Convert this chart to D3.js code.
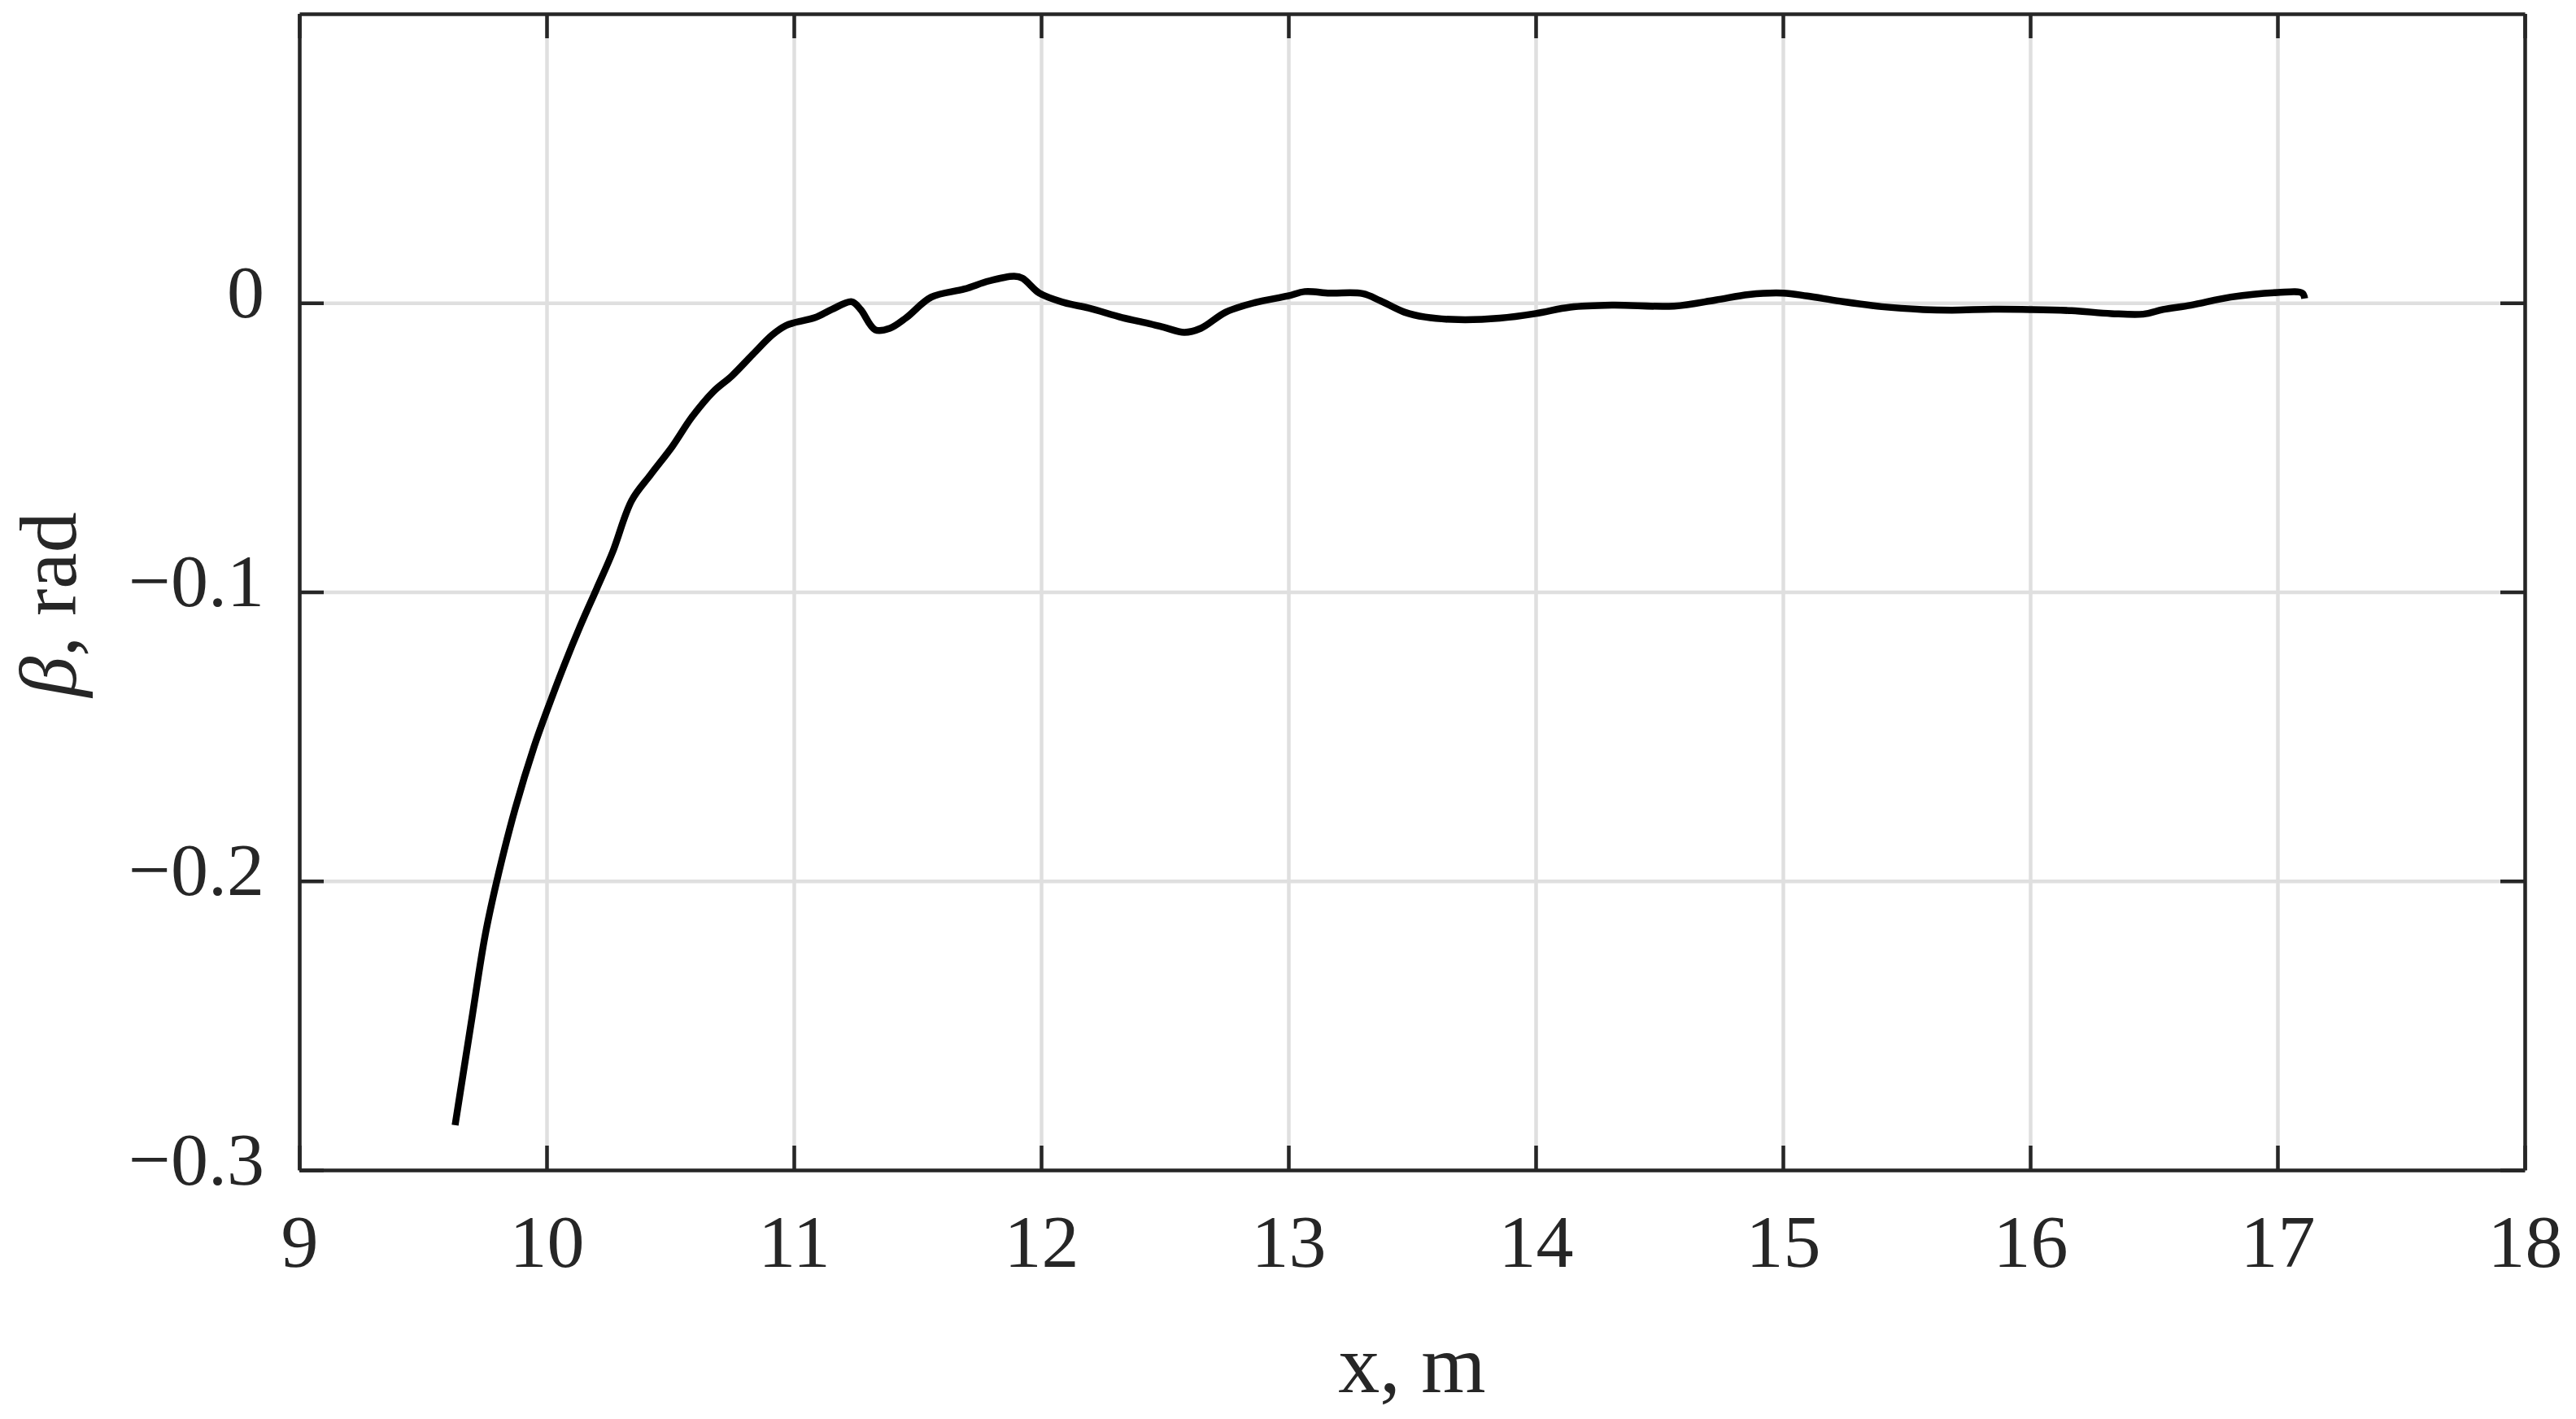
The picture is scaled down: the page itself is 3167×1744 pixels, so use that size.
<!DOCTYPE html>
<html>
<head>
<meta charset="utf-8">
<script src="https://cdn.jsdelivr.net/npm/d3@7"></script>
<style>
  body { margin: 0; background: #fff; }
  svg { display: block; }
</style>
</head>
<body>
<div id="chart"></div>
<script>
// Data: position along the track (m) and slip angle beta (rad)
const xValues = [
  9.63, 9.697, 9.752, 9.807, 9.873, 9.95, 10.0, 10.07, 10.136, 10.202,
  10.267, 10.344, 10.421, 10.509, 10.586, 10.673, 10.75, 10.834, 10.914, 10.967,
  11.0, 11.086, 11.153, 11.234, 11.27, 11.329, 11.388, 11.455, 11.556, 11.69,
  11.79, 11.891, 11.925, 11.992, 12.093, 12.193, 12.328, 12.428, 12.495, 12.579,
  12.646, 12.747, 12.865, 12.999, 13.066, 13.167, 13.301, 13.37, 13.469, 13.553,
  13.687, 13.855, 14.0, 14.14, 14.308, 14.56, 14.728, 14.862, 15.0, 15.097,
  15.23, 15.399, 15.567, 15.684, 15.85, 16.0, 16.167, 16.328, 16.457, 16.537,
  16.65, 16.811, 17.0, 17.1, 17.11
];
const betaValues = [
  -0.2845, -0.248, -0.2186, -0.197, -0.175, -0.1534, -0.1414, -0.1256, -0.1118, -0.099,
  -0.0862, -0.0684, -0.0594, -0.0496, -0.0397, -0.0308, -0.0252, -0.0178, -0.011, -0.0079,
  -0.0069, -0.0051, -0.0023, 0.0004, -0.0023, -0.0093, -0.0088, -0.0051, 0.002, 0.0048,
  0.0076, 0.0092, 0.0085, 0.0034, 0.0001, -0.0018, -0.0051, -0.007, -0.0084, -0.0102,
  -0.0088, -0.0032, 0.0001, 0.0024, 0.0039, 0.0034, 0.0032, 0.0008, -0.0032, -0.0049,
  -0.0058, -0.0053, -0.0037, -0.0015, -0.0008, -0.0011, 0.001, 0.0029, 0.0034, 0.0024,
  0.0006, -0.0013, -0.0023, -0.0025, -0.0022, -0.0023, -0.0027, -0.0037, -0.0039, -0.0023,
  -0.0008, 0.002, 0.0036, 0.0034, 0.0015
];

const xTicks = [9, 10, 11, 12, 13, 14, 15, 16, 17, 18];
const yTicks = [-0.3, -0.2, -0.1, 0];
const xLabel = "x, m";
const yLabelSymbol = "β";
const yLabelRest = ", rad";

// Space
const W = 3167, H = 1744;
const margin = { top: 17, right: 63, bottom: 306, left: 368 };
const width = W - margin.left - margin.right,
      height = H - margin.top - margin.bottom;

const axisColor = "#262626";
const gridColor = "#dfdfdf";
const fontFamily = "'Liberation Serif', 'DejaVu Serif', serif";
const tickLen = 30;

const svg = d3.select("#chart")
  .append("svg")
  .attr("width", W)
  .attr("height", H)
  .append("g")
  .attr("transform", `translate(${margin.left},${margin.top})`);

const x = d3.scaleLinear().domain([9, 18]).range([0, width]);
const y = d3.scaleLinear().domain([-0.3, 0.1]).range([height, 0]);

// Grid
svg.append("g")
  .attr("transform", `translate(0,${height})`)
  .call(d3.axisBottom(x).tickValues(xTicks).tickSize(-height).tickFormat(""))
  .call(g => g.select(".domain").remove())
  .call(g => g.selectAll("line").attr("stroke", gridColor).attr("stroke-width", 4.5));

svg.append("g")
  .call(d3.axisLeft(y).tickValues(yTicks).tickSize(-width).tickFormat(""))
  .call(g => g.select(".domain").remove())
  .call(g => g.selectAll("line").attr("stroke", gridColor).attr("stroke-width", 4.5));

// Curve
const data = xValues.map((v, i) => [v, betaValues[i]]);
const line = d3.line()
  .curve(d3.curveCatmullRom.alpha(0.5))
  .x(d => x(d[0]))
  .y(d => y(d[1]));

svg.append("path")
  .datum(data)
  .attr("fill", "none")
  .attr("stroke", "#000")
  .attr("stroke-width", 8.5)
  .attr("stroke-linejoin", "round")
  .attr("d", line);

// Axes box with inward ticks
function styleAxis(g) {
  g.select(".domain").attr("stroke", axisColor).attr("stroke-width", 4.5);
  g.selectAll(".tick line").attr("stroke", axisColor).attr("stroke-width", 4.5);
  g.selectAll("text")
    .attr("fill", axisColor)
    .style("font-family", fontFamily)
    .style("font-size", "92px");
}

const minus = d => (d < 0 ? "\u2212" : "") + Math.abs(d);

svg.append("g")
  .attr("transform", `translate(0,${height})`)
  .call(d3.axisBottom(x).tickValues(xTicks).tickSizeInner(-tickLen).tickSizeOuter(0).tickFormat(d3.format("d")))
  .call(styleAxis)
  .call(g => g.selectAll("text").attr("y", 119).attr("dy", null));

svg.append("g")
  .call(d3.axisTop(x).tickValues(xTicks).tickSizeInner(-tickLen).tickSizeOuter(0).tickFormat(""))
  .call(styleAxis);

svg.append("g")
  .call(d3.axisLeft(y).tickValues(yTicks).tickSizeInner(-tickLen).tickSizeOuter(0).tickFormat(minus))
  .call(styleAxis)
  .call(g => g.selectAll("text").attr("x", -43).attr("dy", null).attr("y", 17));

svg.append("g")
  .attr("transform", `translate(${width},0)`)
  .call(d3.axisRight(y).tickValues(yTicks).tickSizeInner(-tickLen).tickSizeOuter(0).tickFormat(""))
  .call(styleAxis);

// Axis labels
svg.append("text")
  .attr("text-anchor", "middle")
  .attr("x", width / 2)
  .attr("y", 1711 - margin.top)
  .style("font-family", fontFamily)
  .style("font-size", "102px")
  .style("fill", axisColor)
  .text(xLabel);

const yl = svg.append("text")
  .attr("text-anchor", "middle")
  .attr("transform", `translate(${93 - margin.left},${743 - margin.top}) rotate(-90)`)
  .style("font-family", fontFamily)
  .style("font-size", "100px")
  .style("fill", axisColor);
yl.append("tspan").style("font-style", "italic").text(yLabelSymbol);
yl.append("tspan").text(yLabelRest);
</script>
</body>
</html>
